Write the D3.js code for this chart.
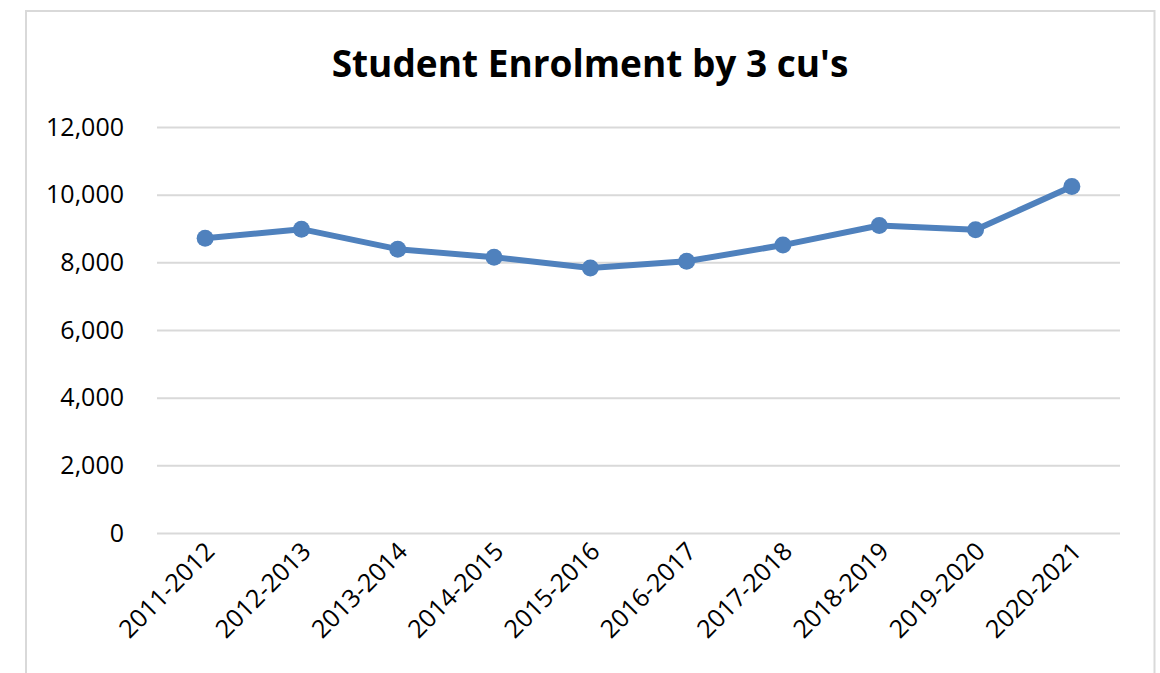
<!DOCTYPE html>
<html><head><meta charset="utf-8">
<script src="https://cdn.jsdelivr.net/npm/d3@7"></script>
<style>body{margin:0;background:#fff}svg{display:block}text{font-family:"Open Sans",sans-serif}</style>
</head><body>
<svg id="c" width="1160" height="673"></svg>
<script>
const categories=["2011-2012","2012-2013","2013-2014","2014-2015","2015-2016","2016-2017","2017-2018","2018-2019","2019-2020","2020-2021"];
const enrolment=[8710,8980,8390,8150,7830,8030,8510,9090,8960,10240];
const yTicks=[0,2000,4000,6000,8000,10000,12000];
const title="Student Enrolment by 3 cu's";

const svg=d3.select("#c");
svg.append("rect").attr("x",26).attr("y",11).attr("width",1128.5).attr("height",700)
  .attr("fill","#fff").attr("stroke","#d9d9d9").attr("stroke-width",2);

const x=d3.scaleBand().domain(categories).range([157,1120]);
const y=d3.scaleLinear().domain([0,12000]).range([533,127]);

svg.append("text").attr("x",590).attr("y",77).attr("text-anchor","middle")
  .attr("font-size",37).attr("font-weight","bold").attr("fill","#000").text(title);

const ya=svg.append("g").attr("transform","translate(157,0)")
  .call(d3.axisLeft(y).tickValues(yTicks).tickSize(-963).tickPadding(33).tickFormat(d3.format(",")));
ya.select(".domain").remove();
ya.selectAll(".tick line").attr("stroke","#d9d9d9").attr("stroke-width",2);
ya.selectAll(".tick text").attr("font-size",25).attr("fill","#000").attr("font-family","'Open Sans',sans-serif");

const xa=svg.append("g").attr("transform","translate(0,533)")
  .call(d3.axisBottom(x).tickSize(0).tickPadding(0));
xa.select(".domain").remove();
xa.selectAll(".tick text").attr("font-size",25).attr("fill","#000").attr("font-family","'Open Sans',sans-serif")
  .attr("text-anchor","end").attr("dy",0).attr("y",0)
  .attr("transform","translate(11,20) rotate(-45)");

const line=d3.line().x((d,i)=>x(categories[i])+x.bandwidth()/2).y(d=>y(d));
svg.append("path").datum(enrolment).attr("d",line).attr("fill","none")
  .attr("stroke","#4f81bd").attr("stroke-width",6).attr("stroke-linejoin","round");
svg.selectAll("circle.p").data(enrolment).enter().append("circle").attr("class","p")
  .attr("cx",(d,i)=>x(categories[i])+x.bandwidth()/2).attr("cy",d=>y(d)).attr("r",8.5)
  .attr("fill","#4f81bd");
</script>
</body></html>
